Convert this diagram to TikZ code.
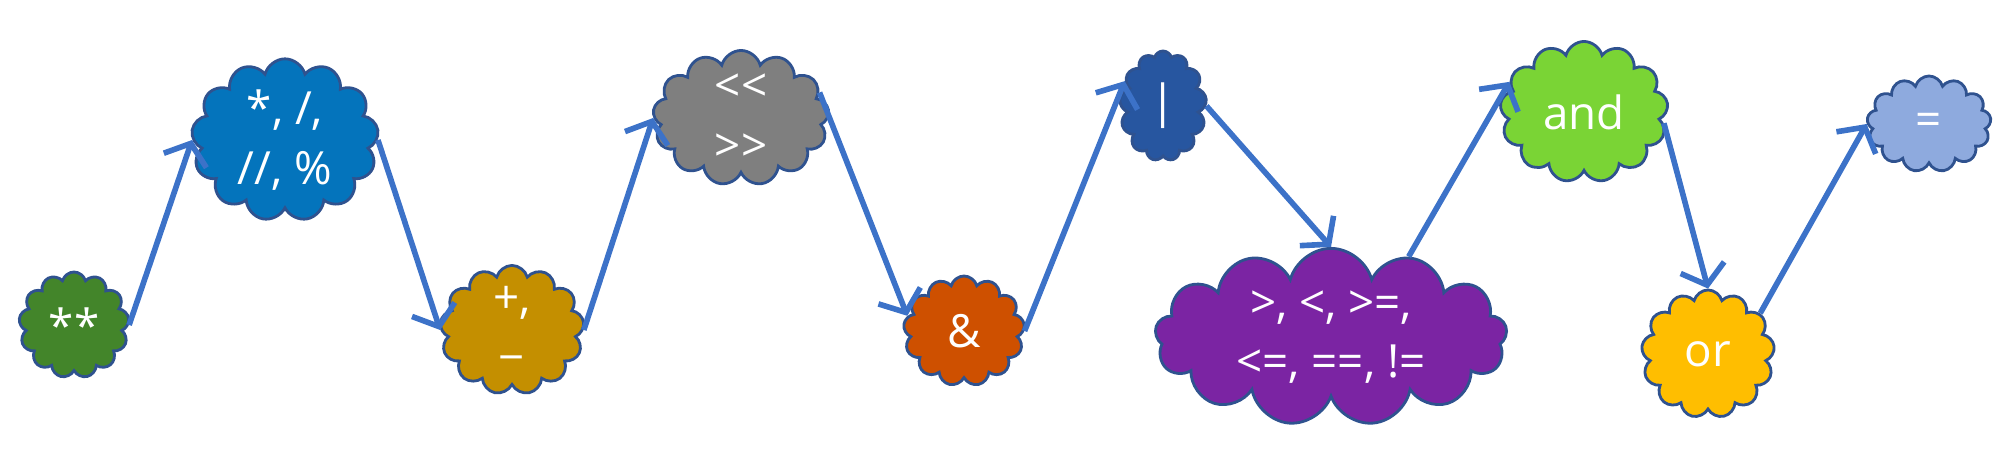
\documentclass[tikz,border=0pt]{standalone}
\usepackage{fontspec}
\setmainfont{Open Sans}
\usetikzlibrary{shapes.symbols}
\usetikzlibrary{arrows.meta}

\definecolor{cgreen}{HTML}{43852A}
\definecolor{cblue}{HTML}{0474BC}
\definecolor{cgold}{HTML}{C48F00}
\definecolor{cgray}{HTML}{7F7F7F}
\definecolor{corange}{HTML}{CE5000}
\definecolor{cdark}{HTML}{2756A0}
\definecolor{cpurple}{HTML}{7B24A3}
\definecolor{clime}{HTML}{7AD435}
\definecolor{cyellow}{HTML}{FFBE00}
\definecolor{clight}{HTML}{8EAADE}
\definecolor{cedge}{HTML}{2F528F}
\definecolor{carrow}{HTML}{3C72C8}

\tikzset{
  op/.style={cloud, cloud puffs=13, cloud ignores aspect, draw=cedge, line width=0.8pt,
             text=white, align=center, inner sep=0pt, font=\fontsize{13}{17}\selectfont},
  flow/.style={draw=carrow, line width=1.6pt, -{Straight Barb[length=1.8mm,width=4.5mm]}}
}

\begin{document}
\begin{tikzpicture}[x=0.01cm,y=-0.01cm]

            \useasboundingbox (0,0) rectangle (2006,454);

            \path   (74,325)   node (pow)  [op,fill=cgreen,minimum width=1.10cm,minimum height=1.06cm] {**}
                    (285,140)  node (mul)  [op,fill=cblue,minimum width=1.87cm,minimum height=1.39cm] {*, /,\\//, \%}
                    (512,330)  node (add)  [op,fill=cgold,minimum width=1.44cm,minimum height=1.19cm] {+,\\−}
                    (741,118)  node (sh)   [op,fill=cgray,minimum width=1.76cm,minimum height=1.35cm] {{<}{<}\\{>}{>}}
                    (964,331)  node (band) [op,fill=corange,minimum width=1.21cm,minimum height=1.10cm] {\&}
                    (1163,106) node (bor)  [op,fill=cdark,minimum width=0.87cm,minimum height=1.10cm] {|}
                    (1331,337) node (cmp)  [op,fill=cpurple,minimum width=3.52cm,minimum height=1.73cm] {>, <, >=,\\<=, ==, !=}
                    (1584,112) node (land) [op,fill=clime,minimum width=1.68cm,minimum height=1.41cm] {and}
                    (1708,354) node (lor)  [op,fill=cyellow,minimum width=1.33cm,minimum height=1.28cm] {or}
                    (1929,124) node (asg)  [op,fill=clight,minimum width=1.24cm,minimum height=0.96cm] {=};

            \draw[flow] (pow.east) -- (mul.west);
            \draw[flow] (mul.east) -- (add.west);
            \draw[flow] (add.east) -- (sh.west);
            \draw[flow] (sh.18) -- (band.165);
            \draw[flow] (band.east) -- (bor.147);
            \draw[flow] (bor.east) -- (cmp.north);
            \draw[flow] (cmp.46) -- (land.158);
            \draw[flow] (land.-8) -- (lor.north);
            \draw[flow] (lor.38) -- (asg.west);

        \end{tikzpicture}
\end{document}
